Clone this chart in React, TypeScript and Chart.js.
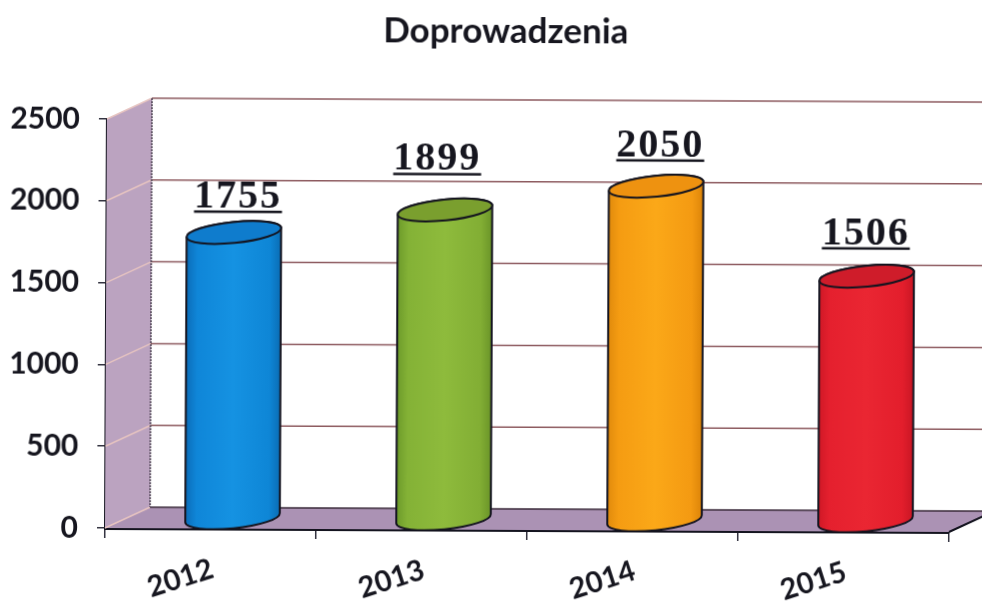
import React, { useEffect, useRef } from "react";
import { Chart, registerables } from "chart.js";

Chart.register(...registerables);

const chartTitle = "Doprowadzenia";
const years = ["2012", "2013", "2014", "2015"];
const values = [1755, 1899, 2050, 1506];
const yTickValues = [0, 500, 1000, 1500, 2000, 2500];
const bodyStops = [
  ["#0b6cb8", "#0f86d8", "#1592e2", "#0e86d6", "#0a6cb4"],
  ["#6c9a2a", "#84b236", "#8ebb3c", "#82ae34", "#6a9428"],
  ["#e08a0c", "#f59c12", "#fba818", "#f49a12", "#dc8409"],
  ["#cf1826", "#e5202e", "#ea2632", "#e31e2c", "#c91624"],
];
const capColours = ["#0f7ccd", "#7a9f2e", "#ee9210", "#cf1c2a"];
const labelShiftX = [26, 14, 26, 21];
const labelShiftY = [-34, -49, -39, -41];

const DEPTH_X = 45;
const DEPTH_Y = -21;
const INK = "#14141f";

const scenePlugin = {
  id: "scene",
  afterLayout(chart: any) {
    if (chart.titleBlock) {
      chart.titleBlock.left += 29;
      chart.titleBlock.right += 29;
    }
  },
  beforeDatasetsDraw(chart: any) {
    const { ctx, scales } = chart;
    const x = scales.x;
    const y = scales.y;
    const x0 = x.left;
    const x1 = x.right;
    const yb = y.getPixelForValue(0);
    const yt = y.getPixelForValue(2500);
    const farRight = x1 + DEPTH_X;
    ctx.save();
    // side wall
    ctx.fillStyle = "#bba3c0";
    ctx.beginPath();
    ctx.moveTo(x0, yb);
    ctx.lineTo(x0, yt);
    ctx.lineTo(x0 + DEPTH_X, yt + DEPTH_Y);
    ctx.lineTo(x0 + DEPTH_X, yb + DEPTH_Y);
    ctx.closePath();
    ctx.fill();
    // floor
    ctx.fillStyle = "#ab92b4";
    ctx.beginPath();
    ctx.moveTo(x0, yb);
    ctx.lineTo(x0 + DEPTH_X, yb + DEPTH_Y);
    ctx.lineTo(farRight, yb + DEPTH_Y);
    ctx.lineTo(x1, yb);
    ctx.closePath();
    ctx.fill();
    // grid lines
    for (const v of yTickValues) {
      const py = y.getPixelForValue(v);
      ctx.strokeStyle = "#e6c3c0";
      ctx.lineWidth = 1.5;
      ctx.beginPath();
      ctx.moveTo(x0, py);
      ctx.lineTo(x0 + DEPTH_X, py + DEPTH_Y);
      ctx.stroke();
      ctx.strokeStyle = v === 0 ? "#3a2a3a" : "#8d5a5f";
      ctx.lineWidth = 1.5;
      ctx.beginPath();
      ctx.moveTo(x0 + DEPTH_X, py + DEPTH_Y);
      ctx.lineTo(farRight, py + DEPTH_Y);
      ctx.stroke();
    }
    // back corner
    ctx.strokeStyle = "#4a3f4f";
    ctx.lineWidth = 1.5;
    ctx.setLineDash([2, 1]);
    ctx.beginPath();
    ctx.moveTo(x0 + DEPTH_X, yt + DEPTH_Y);
    ctx.lineTo(x0 + DEPTH_X, yb + DEPTH_Y);
    ctx.stroke();
    ctx.setLineDash([]);
    // floor right edge
    ctx.strokeStyle = INK;
    ctx.lineWidth = 2;
    ctx.beginPath();
    ctx.moveTo(x1, yb);
    ctx.lineTo(farRight, yb + DEPTH_Y);
    ctx.stroke();
    ctx.restore();
  },
  afterDatasetsDraw(chart: any) {
    const { ctx } = chart;
    const meta = chart.getDatasetMeta(0);
    const rx = 47.5;
    const ry = 10.5;
    const rot = (-6 * Math.PI) / 180;
    ctx.save();
    meta.data.forEach((bar: any, i: number) => {
      const cx = bar.x + 22;
      const cyTop = bar.y - 9;
      const cyBot = bar.base - 10;
      const grad = ctx.createLinearGradient(cx - rx, 0, cx + rx, 0);
      const stops = bodyStops[i];
      [0, 0.12, 0.5, 0.88, 1].forEach((p, k) => grad.addColorStop(p, stops[k]));
      ctx.beginPath();
      ctx.ellipse(cx, cyBot, rx, ry, rot, 0, Math.PI);
      ctx.ellipse(cx, cyTop, rx, ry, rot, Math.PI, Math.PI * 2);
      ctx.closePath();
      ctx.fillStyle = grad;
      ctx.fill();
      ctx.strokeStyle = INK;
      ctx.lineWidth = 2;
      ctx.stroke();
      ctx.beginPath();
      ctx.ellipse(cx, cyTop, rx, ry, rot, 0, Math.PI * 2);
      ctx.fillStyle = capColours[i];
      ctx.fill();
      ctx.stroke();

      // value label with underline
      const lx = bar.x + labelShiftX[i];
      const ly = bar.y + labelShiftY[i];
      const text = String(values[i]);
      ctx.font = "bold 40px 'Liberation Serif'";
      (ctx as any).letterSpacing = "2px";
      ctx.textAlign = "center";
      ctx.textBaseline = "alphabetic";
      ctx.fillStyle = "#16161f";
      ctx.fillText(text, lx, ly);
      (ctx as any).letterSpacing = "0px";
      ctx.fillRect(lx - 44, ly + 3, 88, 2.5);
    });
    ctx.restore();
  },
};

export default function App() {
  const ref = useRef<HTMLCanvasElement>(null);
  useEffect(() => {
    if (!ref.current) return;
    const chart = new Chart(ref.current, {
      type: "bar",
      data: {
        labels: years,
        datasets: [
          {
            label: chartTitle,
            data: values,
            backgroundColor: "rgba(0,0,0,0)",
            borderWidth: 0,
            barThickness: 95,
          },
        ],
      },
      options: {
        responsive: false,
        animation: false,
        layout: { padding: { left: 0, right: 33, top: 0, bottom: 0 } },
        plugins: {
          legend: { display: false },
          tooltip: { enabled: false },
          title: {
            display: true,
            text: chartTitle,
            color: "#16161f",
            font: { family: "Lato", weight: "bold", size: 35 },
            padding: { top: 9, bottom: 68 },
          },
        },
        scales: {
          x: {
            afterFit: (s: any) => {
              s.height = 75;
              s.paddingLeft = 0;
              s.paddingRight = 0;
            },
            grid: {
              drawOnChartArea: false,
              drawTicks: true,
              tickLength: 10,
              color: "#333340",
              lineWidth: 1.5,
            },
            border: { color: INK, width: 3 },
            ticks: {
              color: "#16161f",
              font: { family: "Lato", weight: "bold", size: 29 },
              minRotation: 18,
              maxRotation: 18,
              autoSkip: false,
              padding: 13,
              labelOffset: 2,
            },
          },
          y: {
            min: 0,
            max: 2500,
            afterFit: (s: any) => {
              s.width = 105;
              s.paddingTop = 0;
              s.paddingBottom = 0;
            },
            grid: {
              drawOnChartArea: false,
              drawTicks: true,
              tickLength: 8,
              color: "#333340",
              lineWidth: 1.5,
            },
            border: { color: INK, width: 3 },
            ticks: {
              stepSize: 500,
              color: "#16161f",
              font: { family: "Lato", weight: "bold", size: 30 },
              padding: 19,
              callback: (v: any) => String(v),
            },
          },
        },
      },
      plugins: [scenePlugin],
    } as any);
    return () => chart.destroy();
  }, []);
  return (
    <canvas
      ref={ref}
      width={982}
      height={603}
      style={{
        position: "fixed",
        left: 0,
        top: 0,
        width: 982,
        height: 603,
        background: "#fff",
        transformOrigin: "105px 528px",
        transform: "rotate(0.27deg)",
      }}
    />
  );
}
